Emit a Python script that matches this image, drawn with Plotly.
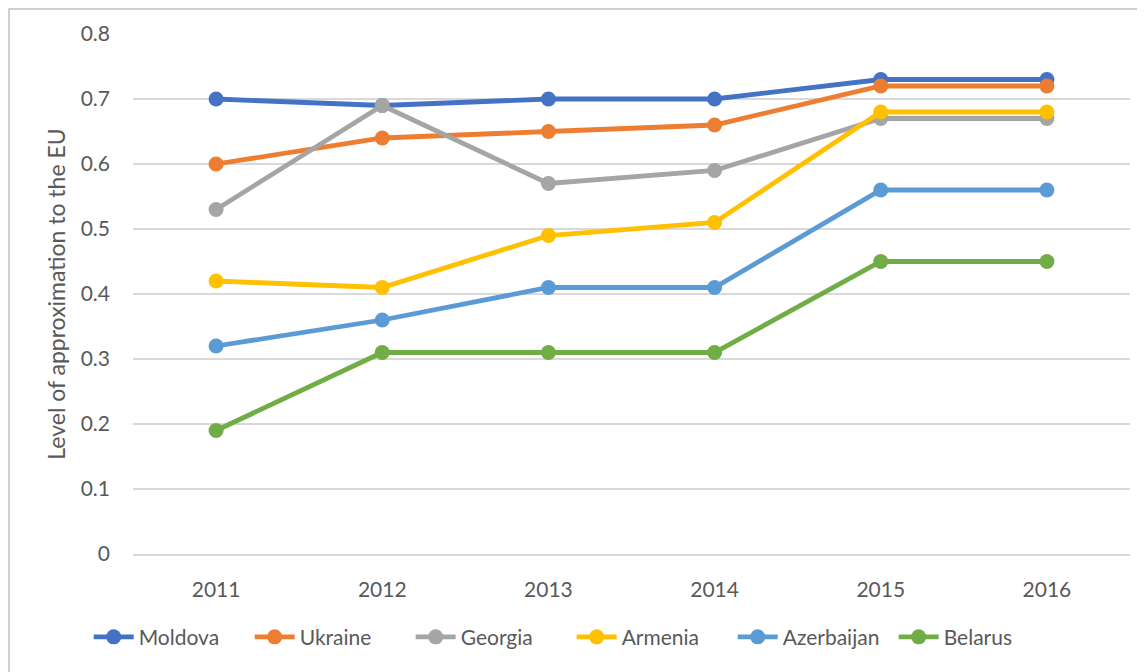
import plotly.graph_objects as go

years = ["2011", "2012", "2013", "2014", "2015", "2016"]
moldova = [0.70, 0.69, 0.70, 0.70, 0.73, 0.73]
ukraine = [0.60, 0.64, 0.65, 0.66, 0.72, 0.72]
georgia = [0.53, 0.69, 0.57, 0.59, 0.67, 0.67]
armenia = [0.42, 0.41, 0.49, 0.51, 0.68, 0.68]
azerbaijan = [0.32, 0.36, 0.41, 0.41, 0.56, 0.56]
belarus = [0.19, 0.31, 0.31, 0.31, 0.45, 0.45]
y_ticks = [0, 0.1, 0.2, 0.3, 0.4, 0.5, 0.6, 0.7, 0.8]
y_tick_labels = ["0", "0.1", "0.2", "0.3", "0.4", "0.5", "0.6", "0.7", "0.8"]

series = [
    ("Moldova", moldova, "#4472C4"),
    ("Ukraine", ukraine, "#ED7D31"),
    ("Georgia", georgia, "#A5A5A5"),
    ("Armenia", armenia, "#FFC000"),
    ("Azerbaijan", azerbaijan, "#5B9BD5"),
    ("Belarus", belarus, "#70AD47"),
]

fig = go.Figure()
for name, vals, color in series:
    fig.add_trace(go.Scatter(
        x=years, y=vals, name=name, mode="lines+markers",
        line=dict(color=color, width=4.8),
        marker=dict(color=color, size=15),
    ))

font_family = "Lato, 'Open Sans', sans-serif"
fig.update_layout(
    width=1145, height=672,
    margin=dict(l=125, r=23, t=26, b=126, autoexpand=False),
    paper_bgcolor="white", plot_bgcolor="white",
    font=dict(family=font_family, size=21, color="#595959"),
    showlegend=True,
    legend=dict(orientation="h", x=0.44, xanchor="center", y=-0.16, yanchor="middle",
                font=dict(size=21, color="#595959"), traceorder="normal",
                itemwidth=40, entrywidth=106, entrywidthmode="pixels"),
    xaxis=dict(type="category", range=[-0.5, 5.5], showgrid=False, zeroline=False,
               showline=True, linecolor="#D9D9D9", linewidth=1.5,
               ticks="outside", ticklen=0, ticklabelstandoff=16, automargin=False,
               tickfont=dict(size=21, color="#595959")),
    yaxis=dict(range=[0, 0.8], tickvals=y_ticks, ticktext=y_tick_labels, showgrid=True,
               gridcolor="#D9D9D9", gridwidth=1.5, zeroline=False,
               ticklabelstandoff=22, automargin=False,
               title=dict(text="Level of approximation to the EU", standoff=8,
                          font=dict(size=23, color="#595959")),
               tickfont=dict(size=21, color="#595959")),
)
fig.add_shape(type="rect", xref="paper", yref="paper",
              x0=-124/997, x1=1.03, y0=-0.3, y1=1 + 25/520,
              line=dict(color="#D0D0D0", width=2), fillcolor="rgba(0,0,0,0)", layer="above")

fig.write_html("out.html")
